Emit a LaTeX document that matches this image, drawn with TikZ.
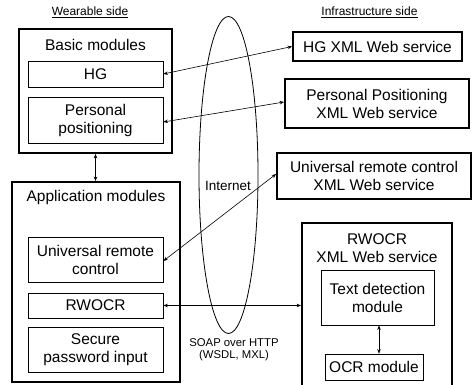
\documentclass[tikz,border=0pt]{standalone}
\usepackage{fontspec}
\setmainfont{Liberation Sans}
\usetikzlibrary{arrows.meta,shapes.geometric}
\begin{document}
\begin{tikzpicture}[x=1pt,y=-1pt,
  every node/.style={font=\fontsize{15.5}{18}\selectfont, inner sep=0pt, align=center},
  obox/.style={draw, line width=1.8pt},
  ibox/.style={draw, line width=0.8pt},
  sidelabel/.style={font=\fontsize{12}{14}\selectfont},
  conn/.style={{Stealth[length=4.5pt,width=3.5pt]}-{Stealth[length=4.5pt,width=3.5pt]}, line width=0.6pt}
]
\useasboundingbox (0,0) rectangle (472,385);

% side labels
\node[sidelabel] (wlab) at (90,12) {\underline{Wearable side}};
\node[sidelabel] (ilab) at (369.5,12) {\underline{Infrastructure side}};

% internet ellipse
\node[draw, ellipse, line width=0.8pt, minimum width=59pt, minimum height=317pt] (net) at (228.5,175) {};
\node[font=\fontsize{13.5}{16}\selectfont] (nettxt) at (228,186) {Internet};
\node[font=\fontsize{11.3}{11.8}\selectfont] (soap) at (234,350) {SOAP over HTTP\\(WSDL, MXL)};

% wearable side
\node[obox, minimum width=153pt, minimum height=124pt] (basic) at (95.5,91) {};
\node (basictxt) at (95.5,45) {Basic modules};
\node[ibox, minimum width=135pt, minimum height=26pt] (hg) at (95.5,74) {HG};
\node[ibox, minimum width=135pt, minimum height=46pt] (pp) at (95.5,120) {Personal\\positioning};

\node[obox, minimum width=168pt, minimum height=200pt] (app) at (96,282) {};
\node (apptxt) at (96,197) {Application modules};
\node[ibox, minimum width=135pt, minimum height=45pt] (urc) at (95.5,259.5) {Universal remote\\control};
\node[ibox, minimum width=135pt, minimum height=25pt] (rw) at (95.5,305.5) {RWOCR};
\node[ibox, minimum width=135pt, minimum height=45pt] (spi) at (95.5,349.5) {Secure\\password input};

\draw[conn] (basic.south) -- (basic.south |- app.north);

% infrastructure side
\node[obox, minimum width=169pt, minimum height=29pt] (hgx) at (377.5,46.5) {HG XML Web service};
\node[obox, minimum width=184pt, minimum height=49pt] (ppx) at (377,103.5) {Personal Positioning\\XML Web service};
\node[obox, minimum width=194pt, minimum height=46pt] (urcx) at (374,176) {Universal remote control\\XML Web service};
\node[obox, minimum width=150pt, minimum height=175pt] (rwx) at (377,310.5) {};
\node (rwxtxt) at (377,248) {RWOCR\\XML Web service};
\node[ibox, minimum width=113pt, minimum height=55pt] (td) at (377.5,297.5) {Text detection\\module};
\node[ibox, minimum width=98pt, minimum height=26pt] (ocr) at (374,367) {OCR module};
\draw[conn] (td.south -| 379,0) -- (ocr.north -| 379,0);

% connections across internet
\draw[conn] (hg.east) -- (hgx.west);
\draw[conn] ([yshift=-2pt]pp.east) -- ([yshift=1.5pt]ppx.west);
\draw[conn] ([yshift=-1.5pt]urc.east) -- ([yshift=2pt]urcx.west);
\draw[conn] (rw.east) -- (rw.east -| rwx.west);
\end{tikzpicture}
\end{document}
